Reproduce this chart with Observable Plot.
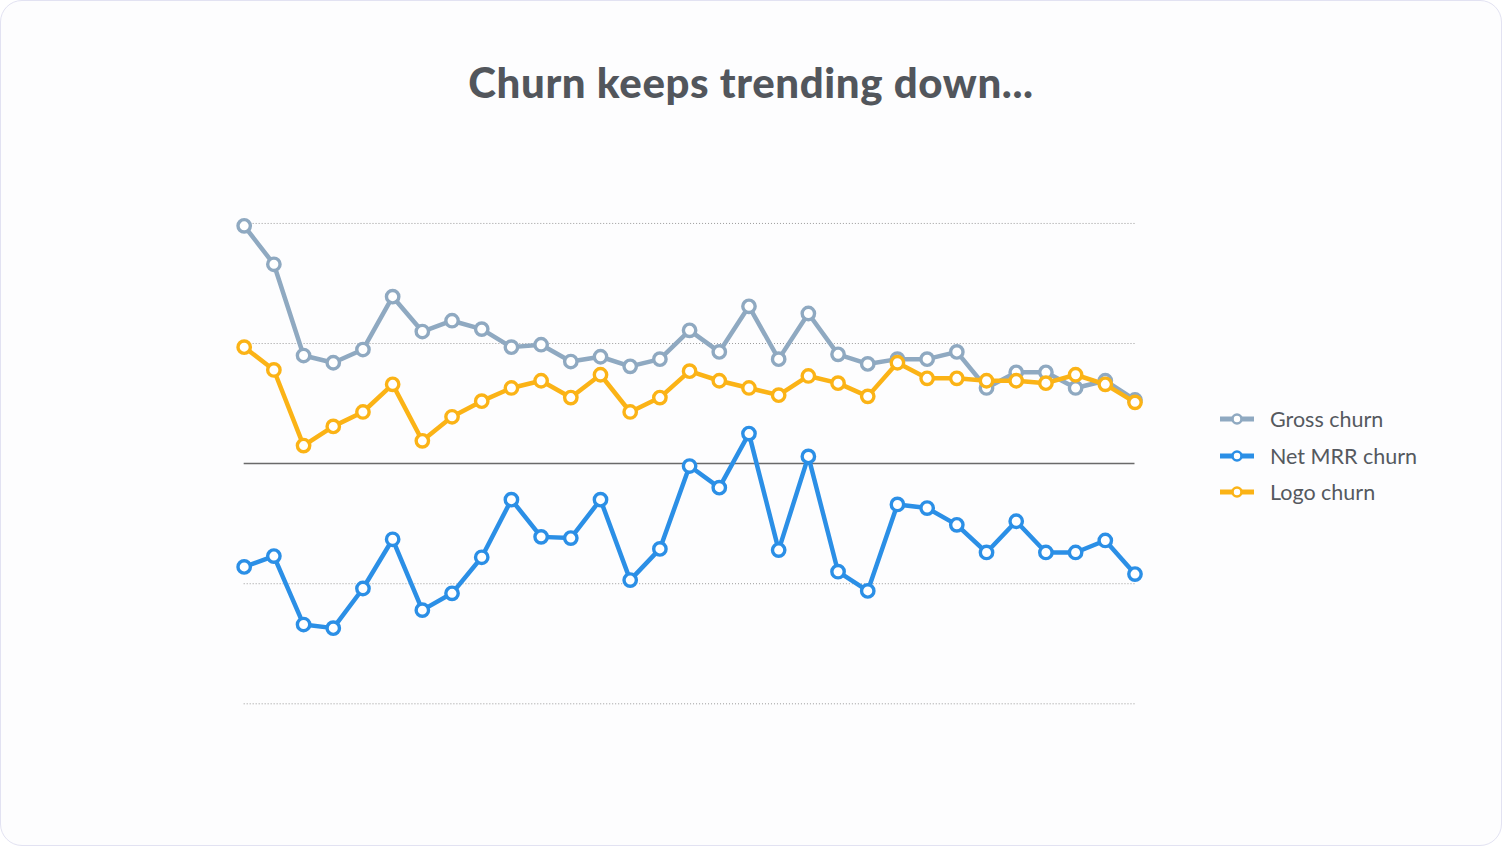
<!DOCTYPE html>
<html>
<head>
<meta charset="utf-8">
<script src="https://cdn.jsdelivr.net/npm/d3@7"></script>
<script src="https://cdn.jsdelivr.net/npm/@observablehq/plot@0.6"></script>
<style>
  html, body { margin: 0; padding: 0; background: #ffffff; }
  #card {
    position: absolute; left: 0; top: 0; width: 1500px; height: 844px;
    border: 1px solid #e2e2f2; border-radius: 22px; background: #fdfdfe;
    overflow: hidden; font-family: Lato, "Open Sans", sans-serif;
  }
  #title {
    position: absolute; left: 0; width: 1500px; top: 56px; text-align: center;
    font-size: 42px; font-weight: 900; color: #52565c; letter-spacing: 0.6px;
  }
  #chart { position: absolute; left: 0; top: 179px; }
  #legend { position: absolute; left: 1218px; top: 400px; }
  .item { display: flex; align-items: center; height: 36.5px; font-size: 21.5px; color: #55595f; }
  .item svg { margin-right: 15px; }
</style>
</head>
<body>
<div id="card">
  <div id="title">Churn keeps trending down...</div>
  <div id="chart"></div>
  <div id="legend"></div>
</div>
<script>
const periods = [1,2,3,4,5,6,7,8,9,10,11,12,13,14,15,16,17,18,19,20,21,22,23,24,25,26,27,28,29,30,31];
const seriesNames = ["Gross churn", "Net MRR churn", "Logo churn"];
const seriesColors = ["#8fa9c1", "#2b8fe6", "#fbb316"];
const grossChurn = [1.98,1.66,0.90,0.84,0.95,1.39,1.10,1.19,1.12,0.97,0.99,0.85,0.89,0.81,0.87,1.11,0.93,1.31,0.87,1.25,0.91,0.83,0.87,0.87,0.93,0.63,0.76,0.76,0.63,0.69,0.53];
const netMrrChurn = [-0.86,-0.77,-1.34,-1.37,-1.04,-0.63,-1.22,-1.08,-0.78,-0.30,-0.61,-0.62,-0.30,-0.97,-0.71,-0.02,-0.20,0.25,-0.72,0.06,-0.90,-1.06,-0.34,-0.37,-0.51,-0.74,-0.48,-0.74,-0.74,-0.64,-0.92];
const logoChurn = [0.97,0.78,0.15,0.31,0.43,0.66,0.19,0.39,0.52,0.63,0.69,0.55,0.74,0.43,0.55,0.77,0.69,0.63,0.57,0.73,0.67,0.56,0.84,0.71,0.71,0.69,0.69,0.67,0.74,0.66,0.51];
const gridValues = [2, 1, -1, -2];
const zeroValue = [0];

const seriesValues = [grossChurn, netMrrChurn, logoChurn];
const rows = [];
seriesNames.forEach((name, s) => {
  periods.forEach((p, i) => rows.push({series: name, period: p, value: seriesValues[s][i]}));
});

const drawOrder = ["Gross churn", "Logo churn", "Net MRR churn"];
const marks = [
  Plot.ruleY(gridValues, {stroke: "#9a9a9a", strokeWidth: 1, strokeDasharray: "1,2"}),
  Plot.ruleY(zeroValue, {stroke: "#6a6a6a", strokeWidth: 1.5})
];
drawOrder.forEach(name => {
  const d = rows.filter(r => r.series === name);
  marks.push(Plot.line(d, {x: "period", y: "value", stroke: "series", strokeWidth: 4.5, strokeLinejoin: "round"}));
  marks.push(Plot.dot(d, {x: "period", y: "value", stroke: "series", fill: "white", r: 6.2, strokeWidth: 3.4}));
});

const chart = Plot.plot({
  width: 1502,
  height: 560,
  marginLeft: 243,
  marginRight: 367,
  marginTop: 43,
  marginBottom: 36,
  x: {domain: [1, 31], axis: null},
  y: {domain: [-2, 2], axis: null},
  color: {domain: seriesNames, range: seriesColors},
  style: {background: "transparent", overflow: "visible"},
  marks
});
document.getElementById("chart").appendChild(chart);

const legend = document.getElementById("legend");
seriesNames.forEach((name, i) => {
  const item = document.createElement("div");
  item.className = "item";
  item.innerHTML = `<svg width="36" height="14"><line x1="1" x2="35" y1="7" y2="7" stroke="${seriesColors[i]}" stroke-width="5"/><circle cx="18" cy="7" r="4.5" fill="white" stroke="${seriesColors[i]}" stroke-width="2.6"/></svg><span>${name}</span>`;
  legend.appendChild(item);
});
</script>
</body>
</html>
